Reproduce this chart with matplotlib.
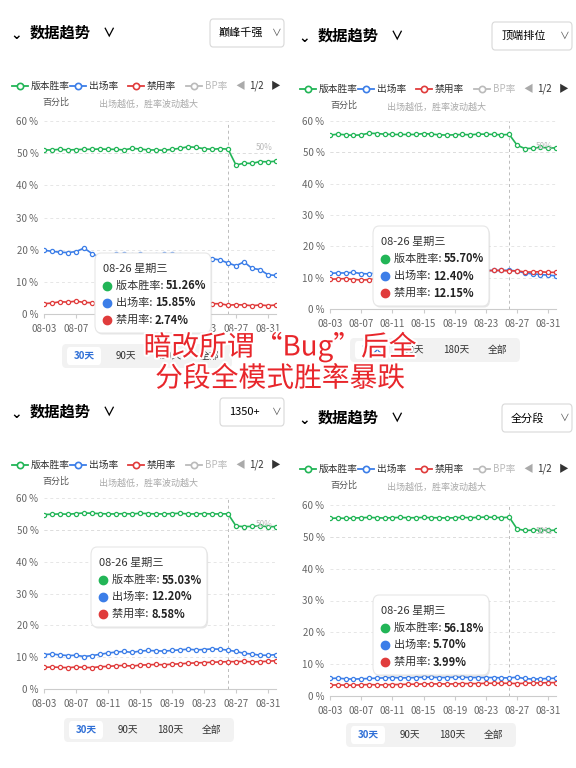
import matplotlib
matplotlib.use("Agg")
import matplotlib.pyplot as plt
import matplotlib.patheffects as pe
from matplotlib.patches import FancyBboxPatch
import numpy as np

plt.rcParams['font.family'] = ['Noto Sans CJK SC', 'DejaVu Sans']

# data: 08-03 .. 09-01, 30 days
dates = ["08-%02d" % d for d in range(3, 32)] + ["09-01"]
tick_labels = ["08-03", "08-07", "08-11", "08-15", "08-19", "08-23", "08-27", "08-31"]
tip_idx = 23  # 08-26

tl_win = [51, 51, 51.2, 51, 51.1, 51.2, 51.2, 51.3, 51.2, 51.2, 51, 51.5, 51.3, 51, 51,
          50.9, 51.2, 51.5, 52, 51.8, 51.4, 51.2, 51.4, 51.26, 46.3, 46.9, 46.8, 47.4, 47.3, 47.5]
tl_pick = [19.8, 19.5, 19.2, 19.1, 19.4, 20.5, 18.8, 17.5, 18, 18.5, 18.8, 18.2, 18.5, 17.6, 18.2,
           18.6, 18.8, 18.2, 17.8, 17.2, 17.5, 17.2, 16.8, 15.85, 15, 16.2, 14.2, 13.8, 12.2, 12]
tl_ban = [3.2, 3.4, 3.8, 3.7, 4, 3.6, 3.5, 3.2, 3.1, 3, 3.2, 3.1, 3.3, 3.2, 3,
          3.1, 3.3, 3.2, 3.2, 3.1, 3.3, 3.2, 3.2, 2.74, 2.9, 2.8, 2.6, 2.8, 2.6, 2.8]

tr_win = [55.5, 55.8, 55.6, 55.4, 55.6, 56.1, 56, 55.8, 55.7, 55.7, 55.7, 55.7, 56, 55.8, 55.6,
          55.5, 55.6, 55.7, 55.6, 55.8, 55.8, 55.7, 55.6, 55.7, 52.3, 51.2, 51.3, 51.6, 51.4, 51.4]
tr_pick = [11.4, 11.5, 11.5, 11.7, 11.3, 11.2, 11.5, 11.8, 12, 12.1, 12, 11.8, 11.9, 12, 12.1,
           12.2, 12, 11.8, 12, 12.2, 12.3, 12.3, 12.3, 12.4, 12.1, 11.5, 11.2, 11, 10.8, 10.6]
tr_ban = [9.5, 9.6, 9.7, 9.4, 9.3, 9.3, 9.8, 10, 10.2, 10.5, 10.7, 10.8, 11, 11.2, 11.3,
          11.2, 11.4, 11.6, 11.8, 12, 12.2, 12.3, 12.3, 12.15, 12.2, 11.8, 11.8, 11.9, 11.7, 11.7]

bl_win = [54.8, 54.9, 55, 54.9, 55.1, 55.3, 55.2, 55.1, 55, 55, 55.1, 55, 55.2, 55.1, 55,
          55, 55.1, 55.2, 55, 55, 55.1, 55, 55, 55.03, 51.2, 51, 51.1, 51.2, 51, 51]
bl_pick = [10.8, 11, 10.7, 10.5, 10.6, 10.2, 10.5, 10.9, 11.3, 11.6, 11.8, 11.5, 11.9, 12.1, 12,
           11.9, 12.1, 12.3, 12.5, 12.3, 12.4, 12.6, 12.5, 12.2, 11.8, 11.2, 11, 10.6, 10.6, 10.8]
bl_ban = [6.8, 6.9, 6.8, 6.7, 6.9, 6.8, 6.7, 7, 7.1, 7.3, 7.4, 7.2, 7.5, 7.6, 7.7,
          7.6, 7.8, 7.9, 8.1, 8.2, 8.3, 8.4, 8.5, 8.58, 8.6, 8.7, 8.5, 8.6, 8.7, 8.9]

br_win = [55.8, 55.9, 55.8, 55.9, 56, 56.1, 56, 55.9, 56, 56.1, 56, 56, 56.1, 56, 56,
          55.9, 56, 56.1, 56, 56.1, 56.2, 56.1, 56, 56.18, 52.5, 52, 52.1, 52.2, 52, 52.1]
br_pick = [5.5, 5.6, 5.4, 5.3, 5.4, 5.5, 5.6, 5.7, 5.8, 5.7, 5.7, 5.8, 5.9, 5.9, 5.8,
           5.8, 5.9, 5.9, 5.8, 5.8, 5.8, 5.8, 5.7, 5.7, 5.9, 5.5, 5.3, 5.4, 5.5, 5.6]
br_ban = [3.4, 3.5, 3.4, 3.4, 3.5, 3.6, 3.5, 3.5, 3.6, 3.6, 3.7, 3.7, 3.8, 3.8, 3.8,
          3.8, 3.8, 3.9, 3.9, 3.9, 4, 4, 4, 3.99, 3.9, 4, 4.1, 4.1, 4.2, 4.2]

GREEN, BLUE, RED = "#22b557", "#3c7ee8", "#e03c3c"

W, H = 576, 768
fig = plt.figure(figsize=(5.76, 7.68), dpi=100)
fig.patch.set_facecolor("white")


def fx(x):
    return x / W


def fy(y):
    return 1 - y / H


def box(x0, y0, x1, y1, fc, ec="none", r=4, lw=0.8, z=5, shadow=False):
    if shadow:
        fig.patches.append(FancyBboxPatch((fx(x0) + 0.002, fy(y1) - 0.002), fx(x1 - x0), (y1 - y0) / H,
                                          boxstyle="round,pad=0,rounding_size=%f" % (r / W),
                                          transform=fig.transFigure, fc="#00000018", ec="none", zorder=z - 0.1))
    fig.patches.append(FancyBboxPatch((fx(x0), fy(y1)), fx(x1 - x0), (y1 - y0) / H,
                                      boxstyle="round,pad=0,rounding_size=%f" % (r / W),
                                      transform=fig.transFigure, fc=fc, ec=ec, lw=lw, zorder=z))


def panel(ox, top, ax_x0, ax_x1, y60, y0, drop, drop_x0, win, pick, ban, btn_y, btn_x, tip, legend_y):
    # header
    fig.text(fx(ox + 10), fy(top + 2), "⌄", fontsize=10, fontweight="bold", ha="left", va="center")
    fig.text(fx(ox + 30), fy(top), "数据趋势", fontsize=11, fontweight="bold", va="center")
    fig.text(fx(ox + 103), fy(top), "∨", fontsize=9, fontweight="bold", va="center")
    box(ox + drop_x0, top - 14, ox + 284, top + 14, "white", "#d8d8d8", r=3)
    fig.text(fx(ox + drop_x0 + 9), fy(top), drop, fontsize=8, va="center", zorder=6)
    fig.text(fx(ox + 272), fy(top), "∨", fontsize=7, va="center", color="#555", zorder=6)
    # legend
    items = [("版本胜率", GREEN), ("出场率", BLUE), ("禁用率", RED), ("BP率", "#bbbbbb")]
    lx = ox + 20
    for name, c in items:
        fig.lines.append(plt.Line2D([fx(lx - 8), fx(lx + 8)], [fy(legend_y)] * 2, color=c, lw=1.3,
                                    transform=fig.transFigure, zorder=6))
        fig.lines.append(plt.Line2D([fx(lx)], [fy(legend_y)], color=c, marker="o", ms=4.5, mfc="white",
                                    mew=1.2, transform=fig.transFigure, zorder=7))
        fig.text(fx(lx + 11), fy(legend_y), name, fontsize=7, va="center",
                 color="#333" if c != "#bbbbbb" else "#bbbbbb")
        lx += 58
    fig.text(fx(ox + 235), fy(legend_y), "◀", fontsize=7, va="center", color="#aaa")
    fig.text(fx(ox + 249), fy(legend_y), "1/2", fontsize=7, va="center", color="#333")
    fig.text(fx(ox + 271), fy(legend_y), "▶", fontsize=7, va="center", color="#333")
    fig.text(fx(ox + 42), fy(legend_y + 16), "百分比", fontsize=6.5, va="center", color="#555")
    fig.text(fx(ox + 148), fy(legend_y + 18), "出场越低，胜率波动越大", fontsize=6.5, va="center",
             ha="center", color="#aaa", style="italic")

    ax = fig.add_axes([fx(ax_x0), fy(y0), fx(ax_x1 - ax_x0), (y0 - y60) / H])
    x = np.arange(len(dates))
    for s, c in ((win, GREEN), (pick, BLUE), (ban, RED)):
        ax.plot(x, s, color=c, lw=1.2, marker="o", ms=3, mfc="white", mew=0.9, zorder=3)
    ax.set_ylim(0, 60)
    ax.set_xlim(0, len(dates) - 1)
    ax.set_yticks(range(0, 61, 10))
    ax.set_yticklabels(["%d %%" % v for v in range(0, 61, 10)])
    ax.set_xticks([dates.index(t) for t in tick_labels])
    ax.set_xticklabels(tick_labels)
    ax.tick_params(labelsize=7, colors="#666", length=0, pad=4)
    ax.tick_params(axis="x", length=3, color="#ccc")
    ax.grid(axis="y", color="#e6e6e6", ls=(0, (3, 3)), lw=0.7)
    for sp in ("top", "right", "left"):
        ax.spines[sp].set_visible(False)
    ax.spines["bottom"].set_color("#cccccc")
    ax.axvline(tip_idx, color="#bbb", ls=(0, (3, 3)), lw=0.7)
    ax.axhline(50, color="#ddd", ls=(0, (3, 3)), lw=0.7)
    ax.text(len(dates) - 2.5, 51, "50%", fontsize=6, color="#bbb", ha="center")

    # tooltip
    tx, ty = tip
    box(tx, ty, tx + 116, ty + 80, "white", "#e6e6e6", r=6, z=8, shadow=True)
    fig.text(fx(tx + 8), fy(ty + 16), "08-26 星期三", fontsize=8, va="center", color="#333", zorder=9)
    for k, (name, c, s) in enumerate((("版本胜率", GREEN, win), ("出场率", BLUE, pick), ("禁用率", RED, ban))):
        yy = ty + 33 + k * 17
        fig.lines.append(plt.Line2D([fx(tx + 12)], [fy(yy)], color=c, marker="o", ms=6,
                                    transform=fig.transFigure, zorder=9))
        fig.text(fx(tx + 21), fy(yy), name + ": ", fontsize=8, va="center", color="#333", zorder=9)
        fig.text(fx(tx + 21 + 11 * len(name) + 6), fy(yy), "%.2f%%" % s[tip_idx], fontsize=8,
                 fontweight="bold", va="center", color="#222", zorder=9)

    # range buttons
    bx = btn_x
    box(bx, btn_y - 12, bx + 170, btn_y + 12, "#f2f2f2", r=4, z=4)
    for k, lab in enumerate(["30天", "90天", "180天", "全部"]):
        cx = bx + 22 + k * 42
        if k == 0:
            box(cx - 17, btn_y - 9, cx + 17, btn_y + 9, "white", r=3, z=4.5)
        fig.text(fx(cx), fy(btn_y), lab, fontsize=7, ha="center", va="center",
                 color="#2f6fd6" if k == 0 else "#333", fontweight="bold" if k == 0 else "normal", zorder=5)


panel(0, 33, 44, 276, 121, 314, "巅峰千强", 210, tl_win, tl_pick, tl_ban, 356, 62, (95, 253), 86)
panel(288, 36, 330, 556, 121, 309, "顶端排位", 204, tr_win, tr_pick, tr_ban, 350, 350, (373, 226), 89)
panel(0, 412, 44, 276, 498, 689, "1350+", 220, bl_win, bl_pick, bl_ban, 730, 64, (91, 547), 465)
panel(288, 418, 330, 556, 505, 696, "全分段", 214, br_win, br_pick, br_ban, 735, 346, (373, 595), 469)

fig.text(fx(280), fy(362), "暗改所谓“Bug”后全\n分段全模式胜率暴跌", fontsize=20, color="#e8262b",
         ha="center", va="center", linespacing=1.05, zorder=20,
         path_effects=[pe.withStroke(linewidth=3, foreground="white")])

fig.savefig("out.png", dpi=100)
